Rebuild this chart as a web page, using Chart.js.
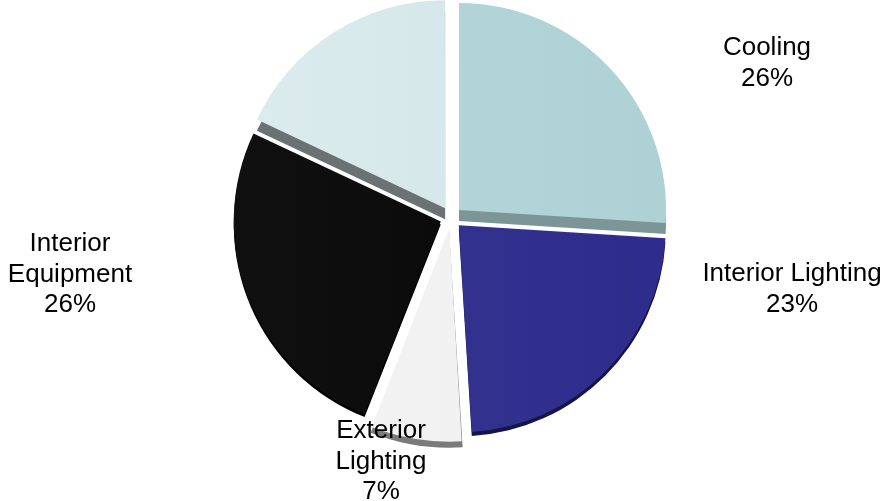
<!DOCTYPE html>
<html>
<head>
<meta charset="utf-8">
<script src="https://cdn.jsdelivr.net/npm/chart.js@4/dist/chart.umd.min.js"></script>
<style>
  html, body { margin: 0; padding: 0; background: #ffffff; }
  #wrap { width: 885px; height: 501px; }
</style>
</head>
<body>
<div id="wrap"><canvas id="energyPie" width="885" height="501"></canvas></div>
<script>
// Energy end-use shares
const categories = ['Cooling', 'Interior Lighting', 'Exterior Lighting', 'Interior Equipment', 'Other'];
const shares = [26, 23, 7, 26, 18];
// how each category label is broken over lines (null = no label)
const labelLines = [['Cooling'], ['Interior Lighting'], ['Exterior', 'Lighting'], ['Interior', 'Equipment'], null];

// slice fills: [left, right] of a soft horizontal gradient
const sliceColors = [
    ['#b8d8dc', '#add1d5'],
    ['#37378f', '#2e2c8c'],
    ['#f4f4f4', '#efefef'],
    ['#101010', '#060606'],
    ['#dcecee', '#cfe3e6']
];
const edgeColors = ['#7c9697', '#15144a', '#7a7a7a', '#000000', '#6a7273'];
const edgeDepth = [11, 4, 6, 3, 11];

// label anchor points (centre of the first text line)
const labelAnchors = [[767, 48], [792, 274], [381, 431], [70, 244]];

const pieRadius = 207;

function sliceFill(context) {
    const chart = context.chart;
    const pair = sliceColors[context.dataIndex];
    const area = chart.chartArea;
    if (!area) return pair[0];
    const cx = (area.left + area.right) / 2;
    const g = chart.ctx.createLinearGradient(cx - pieRadius, 0, cx + pieRadius, 0);
    g.addColorStop(0, pair[0]);
    g.addColorStop(1, pair[1]);
    return g;
}

// Draws a darker copy of each wedge, pushed down, to give the slices some thickness
const depthPlugin = {
    id: 'sliceDepth',
    beforeDatasetsDraw(chart) {
        const ctx = chart.ctx;
        chart.getDatasetMeta(0).data.forEach((arc, i) => {
            const d = edgeDepth[i];
            if (!d) return;
            const shift = (arc.options.offset || 0) / 4;
            const sweep = arc.endAngle - arc.startAngle;
            const mid = (arc.startAngle + arc.endAngle) / 2;
            const fix = 1 - Math.sin(Math.min(Math.PI, sweep));
            const r = arc.outerRadius + shift * fix;
            const cx = arc.x + Math.cos(mid) * shift;
            const cy = arc.y + Math.sin(mid) * shift + d;
            ctx.save();
            ctx.fillStyle = edgeColors[i];
            ctx.beginPath();
            ctx.moveTo(cx, cy);
            ctx.arc(cx, cy, r, arc.startAngle, arc.endAngle);
            ctx.closePath();
            ctx.fill();
            ctx.restore();
        });
    }
};

// Category name + percentage, written outside the pie
const labelPlugin = {
    id: 'sliceLabels',
    afterDatasetsDraw(chart) {
        const ctx = chart.ctx;
        const total = shares.reduce((a, b) => a + b, 0);
        ctx.save();
        ctx.font = '26px "Liberation Sans", Arial, sans-serif';
        ctx.fillStyle = '#000000';
        ctx.textAlign = 'center';
        ctx.textBaseline = 'middle';
        labelLines.forEach((lines, i) => {
            if (!lines) return;
            const pct = Math.round(shares[i] / total * 100) + '%';
            const all = lines.concat([pct]);
            const [x, y] = labelAnchors[i];
            all.forEach((t, k) => ctx.fillText(t, x, y + k * 30.5));
        });
        ctx.restore();
    }
};

new Chart(document.getElementById('energyPie').getContext('2d'), {
    type: 'pie',
    data: {
        labels: categories,
        datasets: [{
            data: shares,
            backgroundColor: sliceFill,
            borderWidth: 0,
            offset: 44
        }]
    },
    options: {
        responsive: false,
        animation: false,
        radius: pieRadius,
        layout: { padding: { left: 17, right: 0, top: 0, bottom: 66 } },
        plugins: {
            legend: { display: false },
            tooltip: { enabled: false }
        }
    },
    plugins: [depthPlugin, labelPlugin]
});
</script>
</body>
</html>
